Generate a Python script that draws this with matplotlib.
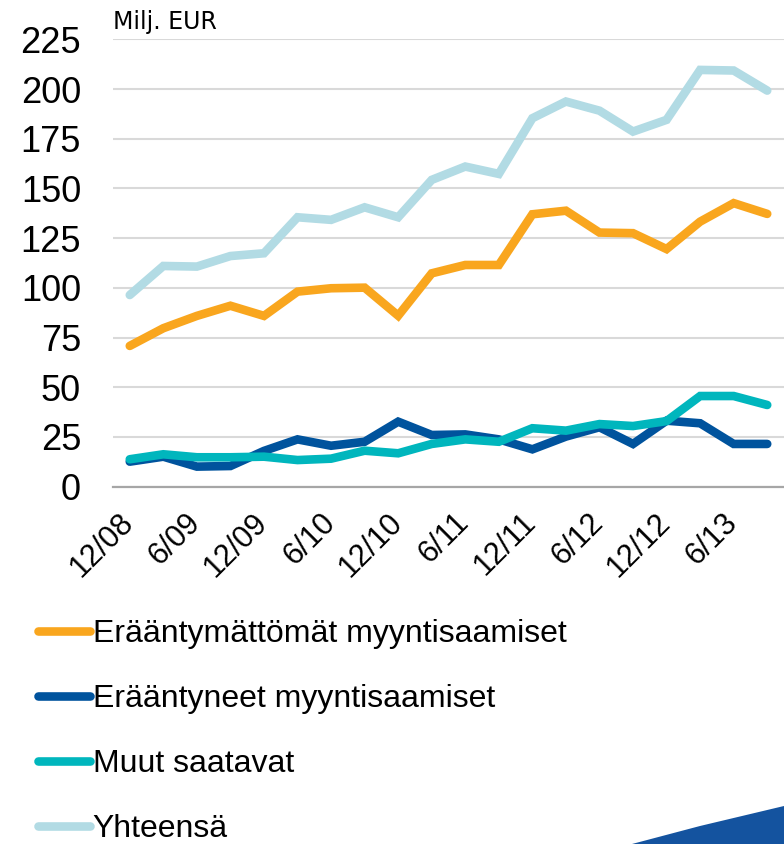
import matplotlib
matplotlib.use("Agg")
import matplotlib.pyplot as plt
from matplotlib.patches import Polygon
from matplotlib.transforms import ScaledTranslation
import numpy as np

quarters = ["12/08", "3/09", "6/09", "9/09", "12/09", "3/10", "6/10", "9/10",
            "12/10", "3/11", "6/11", "9/11", "12/11", "3/12", "6/12", "9/12",
            "12/12", "3/13", "6/13", "9/13"]
erantymattomat = [70.8, 79.7, 85.9, 91.0, 85.9, 98.1, 99.8, 100.1, 86.0, 107.3,
                  111.5, 111.5, 137.0, 138.8, 127.8, 127.5, 119.5, 133.3, 142.6, 137.2]
erantyneet = [12.6, 15.1, 10.1, 10.4, 18.0, 23.8, 20.6, 22.6, 32.7, 26.0,
              26.3, 23.8, 18.8, 25.2, 29.9, 21.5, 33.2, 31.9, 21.5, 21.5]
muut = [13.8, 16.3, 14.8, 14.8, 15.1, 13.4, 14.1, 18.1, 16.8, 21.5,
        23.8, 22.6, 29.4, 28.2, 31.5, 30.5, 33.0, 45.6, 45.6, 41.1]
yhteensa = [96.4, 111.0, 110.7, 116.0, 117.4, 135.5, 134.2, 140.5, 135.5, 154.3,
            161.0, 157.3, 185.3, 193.7, 189.1, 178.6, 184.5, 209.6, 209.3, 199.2]
series_names = ["Erääntymättömät myyntisaamiset", "Erääntyneet myyntisaamiset",
                "Muut saatavat", "Yhteensä"]
colors = ["#F9A61E", "#00539D", "#00B6BD", "#B2DBE4"]
y_ticks = [0, 25, 50, 75, 100, 125, 150, 175, 200, 225]

W, H = 784, 844
fig = plt.figure(figsize=(W / 100, H / 100), dpi=100)
ax = fig.add_axes([113 / W, 1 - 486.7 / H, (784 - 113) / W, (486.7 - 39.3) / H])

x = np.arange(len(quarters))
data = [erantymattomat, erantyneet, muut, yhteensa]
handles = []
for vals, c, name in zip(data, colors, series_names):
    ln, = ax.plot(x, vals, color=c, lw=6.2, solid_capstyle="round",
                  solid_joinstyle="miter", label=name, zorder=3)
    handles.append(ln)

ax.set_xlim(-0.5, len(quarters) - 0.5)
ax.set_ylim(0, 225)
ax.set_yticks(y_ticks)
ax.set_yticklabels([str(v) for v in y_ticks], fontsize=26, family="Liberation Sans")
ax.tick_params(axis="y", length=0, pad=23)
ax.set_xticks(x[::2])
ax.set_xticklabels(quarters[::2], rotation=45, ha="right", rotation_mode="anchor",
                   fontsize=22, family="Liberation Sans")
ax.tick_params(axis="x", length=0, pad=12)
off = ScaledTranslation(-8 / 72, -3 / 72, fig.dpi_scale_trans)
for lbl in ax.get_xticklabels():
    lbl.set_transform(lbl.get_transform() + off)
ax.grid(axis="y", color="#D9D9D9", lw=1.5, zorder=0)
ax.set_axisbelow(True)
for s in ["top", "right", "left"]:
    ax.spines[s].set_visible(False)
ax.spines["bottom"].set_color("#A6A6A6")
ax.spines["bottom"].set_linewidth(1.6)

fig.text(113 / W, 1 - 22 / H, "Milj. EUR", fontsize=17, family="DejaVu Sans",
         va="center", ha="left")

leg = fig.legend(handles, series_names, loc="upper left",
                 bbox_to_anchor=(38 / W, 1 - 619 / H), frameon=False,
                 prop={"family": "Liberation Sans", "size": 23},
                 handlelength=1.63, handletextpad=0.08, labelspacing=1.1,
                 borderaxespad=0, borderpad=0)

tri = Polygon([[632 / W, 0], [700 / W, 18 / H], [784 / W, 38 / H], [1, 0]],
              closed=True, transform=fig.transFigure, color="#14539F", lw=0)
fig.patches.append(tri)

fig.savefig("out.png", dpi=100)
